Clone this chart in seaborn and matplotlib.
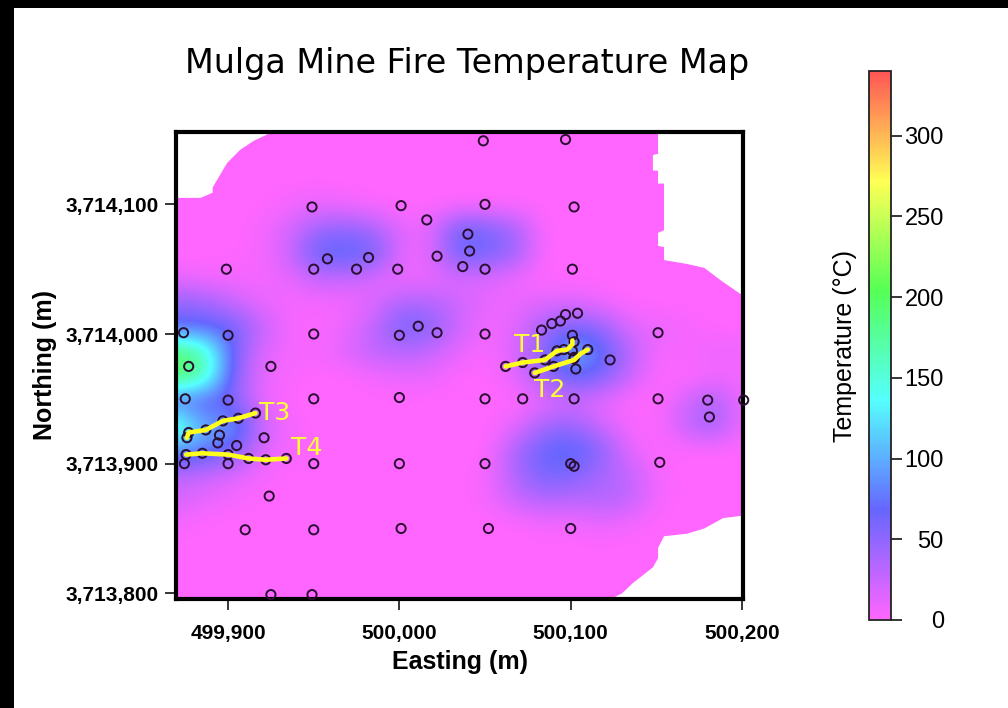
import numpy as np
import pandas as pd
import seaborn as sns
import matplotlib
matplotlib.use("Agg")
import matplotlib.pyplot as plt
from matplotlib.colors import LinearSegmentedColormap
from matplotlib.patches import Polygon, Rectangle

# survey points
point_e = [500049,500097,499949,500001,500050,500102,500016,500040,500041,499958,499982,500022,
           499899,499950,499975,499999,500037,500050,500101,499874,499900,499950,500000,500011,
           500022,500050,500151,499877,499925,499875,499900,499950,500000,500050,500072,500102,
           500151,500180,500201,500181,499916,499906,499897,499887,499877,499876,499895,499894,
           499905,499921,499875.5,499885,499900,499912,499922,499934,499874.5,499900,499950,500000,
           500050,500100,500102,500152,499924,499910,499950,500001,500052,500100,499925,499949,
           500062,500072,500085,500092,500096,500102,500101,500079,500090,500102,500110,500103,
           500123,500083,500089,500094,500097,500104,500101,500102]
point_n = [3714149,3714150,3714098,3714099,3714100,3714098,3714088,3714077,3714064,3714058,3714059,3714060,
           3714050,3714050,3714050,3714050,3714052,3714050,3714050,3714001,3713999,3714000,3713999,3714006,
           3714001,3714000,3714001,3713975,3713975,3713950,3713949,3713950,3713951,3713950,3713950,3713950,
           3713950,3713949,3713949,3713936,3713939,3713935,3713933,3713926,3713924,3713920,3713922,3713916,
           3713914,3713920,3713907,3713908,3713907,3713904,3713903,3713904,3713900,3713900,3713900,3713900,
           3713900,3713900,3713898,3713901,3713875,3713849,3713849,3713850,3713850,3713850,3713799,3713799,
           3713975,3713978,3713980,3713987,3713988,3713994,3713999,3713970,3713975,3713981,3713988,3713973,
           3713980,3714003,3714008,3714010,3714015,3714016,3713987,3713982]

# transects
t1_e = [500062,500072,500085,500092,500098,500101,500101]
t1_n = [3713975,3713978,3713980,3713987,3713988,3713992,3713995]
t2_e = [500079,500090,500102,500106,500110]
t2_n = [3713970,3713975,3713980,3713985,3713988]
t3_e = [499876,499877,499887,499897,499906,499916]
t3_n = [3713920,3713924,3713926,3713933,3713935,3713939]
t4_e = [499875.5,499885,499900,499912,499922,499934]
t4_n = [3713907,3713908,3713907,3713904,3713903,3713904]
transect_names = ["T1","T2","T3","T4"]
label_e = [500076,500088,499927,499946]
label_n = [3713991.5,3713956.5,3713939,3713912]

# temperature read on a coarse grid (rows north to south, columns west to east)
temperature = np.array([
 [0,0,0,0,0,0,0,0,0,0,0,0,0,0,0,0,0,0,0,0,0],
 [0,0,0,0,0,0,0,0,0,0,0,0,0,0,0,0,0,0,0,0,0],
 [0,0,0,0,0,0,0,0,0,0,0,0,0,0,0,0,0,0,0,0,0],
 [0,0,0,0,6,10,6,2,0,0,0,0,0,0,0,0,0,0,0,0,0],
 [0,0,0,5,18,45,50,40,10,12,70,60,40,0,0,0,0,0,0,0,0],
 [0,0,0,5,22,72,75,65,10,12,68,62,45,0,0,0,0,0,0,0,0],
 [10,5,5,5,10,25,25,15,5,10,15,15,5,0,0,0,0,0,0,0,0],
 [50,45,25,10,5,5,5,15,38,34,22,10,10,15,15,8,0,0,0,0,0],
 [70,70,65,28,5,0,10,28,65,55,22,5,12,42,60,50,15,10,5,0,0],
 [200,170,60,15,5,5,15,30,32,25,10,2,18,55,110,75,35,5,5,10,10],
 [200,170,55,10,3,0,0,5,10,10,0,0,12,45,70,60,25,0,0,5,5],
 [65,60,55,10,0,0,0,0,0,0,0,0,0,10,20,10,0,0,20,42,5],
 [175,95,100,25,5,0,0,0,0,0,0,0,12,42,48,22,5,0,28,45,5],
 [90,80,60,15,5,0,0,0,0,0,0,0,40,70,78,55,12,0,0,0,0],
 [30,25,15,5,0,0,0,0,0,0,0,5,38,62,58,38,30,5,0,0,0],
 [20,10,5,0,0,0,0,0,0,0,0,5,25,35,30,35,30,5,0,0,0],
 [5,0,0,0,0,0,0,0,0,0,0,0,0,5,5,10,5,0,0,0,0],
 [0,0,0,0,0,0,0,0,0,0,0,0,0,0,0,0,0,0,0,0,0],
 [0,0,0,0,0,0,0,0,0,0,0,0,0,0,0,0,0,0,0,0,0],
 [0,0,0,0,0,0,0,0,0,0,0,0,0,0,0,0,0,0,0,0,0],
], dtype=float)

# outline of the mapped area
area_e = [499869,499884,499891,499891,499895,499899.5,499907,499915,499923,499923,
          500151,500151,500148,500148,500151,500151,500154.5,500154.5,500151,500151,500154.5,500154.5,
          500168,500178,500188,500199,500201,500201,500189,500178,500168,500154.5,500151,500151,
          500148,500136.4,500130,500124,499869]
area_n = [3714105,3714105,3714109,3714113,3714122,3714132,3714142,3714149,3714154,3714156,
          3714156,3714139,3714138,3714126,3714126,3714116,3714116,3714080,3714078,3714068,3714067,3714057,
          3714054,3714051,3714041,3714031,3714031,3713860,3713858,3713850,3713846,3713844,3713835,3713827,
          3713820,3713808,3713800,3713796,3713796]

colorbar_ticks = [0,50,100,150,200,250,300]
x_ticks = [499900,500000,500100,500200]
y_ticks = [3713800,3713900,3714000,3714100]

sns.set_theme(style="white", rc={"text.color":"black","axes.labelcolor":"black"})
plt.rcParams['font.family'] = ['Liberation Sans','DejaVu Sans']

W,H = 1008,708
fig = plt.figure(figsize=(W/100,H/100), dpi=100, facecolor="white")
fig.patches.append(Rectangle((0,1-8/H),1,8/H,transform=fig.transFigure,fc="black",ec="none"))
fig.patches.append(Rectangle((0,0),14/W,1,transform=fig.transFigure,fc="black",ec="none"))

ax = fig.add_axes([176/W,1-598.5/H,(743-176)/W,(598.5-132)/H])
ax.set_facecolor("white")
cmap = LinearSegmentedColormap.from_list("fire",
    ["#FF66FF","#6666FF","#55FFFF","#55FF55","#FFFF55","#FF5555"], N=256)
xmin,xmax = 499869.6,500200.6
ymin,ymax = 3713796,3714155.8
im = ax.imshow(temperature,extent=[xmin-8,xmax+8,ymin-9.5,ymax+9.5],origin="upper",aspect="auto",
               cmap=cmap,vmin=0,vmax=340,interpolation="bicubic",zorder=1)
im.set_clip_path(Polygon(np.c_[area_e,area_n],closed=True,transform=ax.transData))

points = pd.DataFrame({"e":point_e,"n":point_n})
sns.scatterplot(data=points,x="e",y="n",ax=ax,s=44,facecolor="none",edgecolor="#2a0f33",linewidth=1.4,
                clip_on=False,zorder=6,legend=False)
for te,tn in [(t1_e,t1_n),(t2_e,t2_n),(t3_e,t3_n),(t4_e,t4_n)]:
    sns.lineplot(x=te,y=tn,ax=ax,sort=False,estimator=None,color="#FFFF1E",lw=3.3,zorder=7,
                 solid_capstyle="round",legend=False)
for name,e,n in zip(transect_names,label_e,label_n):
    ax.text(e,n,name,color="#FFFF33",fontsize=18,family="DejaVu Sans",ha="center",va="center",zorder=8)

ax.set_xlim(xmin,xmax); ax.set_ylim(ymin,ymax)
ax.set_xticks(x_ticks); ax.set_yticks(y_ticks)
ax.set_xticklabels([f"{v:,}" for v in x_ticks],fontweight="bold",fontsize=15)
ax.set_yticklabels([f"{v:,}" for v in y_ticks],fontweight="bold",fontsize=15)
ax.tick_params(axis="both",length=8,width=1.1,color="black",labelcolor="black",bottom=True,left=True)
ax.tick_params(axis="x",pad=10)
ax.tick_params(axis="y",pad=4.5)
for s in ax.spines.values():
    s.set_visible(True); s.set_linewidth(3); s.set_color("black"); s.set_zorder(5)
ax.set_xlabel("Easting (m)",fontweight="bold",fontsize=18,labelpad=5.5)
ax.set_ylabel("Northing (m)",fontweight="bold",fontsize=18,labelpad=6)
fig.text(467/W,1-63/H,"Mulga Mine Fire Temperature Map",family="DejaVu Sans",fontsize=24,ha="center",va="center",color="black")

cax = fig.add_axes([869/W,1-620/H,22/W,(620-71)/H])
cb = fig.colorbar(im,cax=cax)
cb.set_ticks(colorbar_ticks)
cb.ax.tick_params(length=8,width=1.1,color="black",labelsize=17,labelcolor="black",right=True,pad=30)
for lab in cb.ax.get_yticklabels():
    lab.set_ha("right")
cb.outline.set_linewidth(1.3); cb.outline.set_edgecolor("#222222")
cb.set_label("Temperature (°C)",fontsize=18,rotation=90,labelpad=8.6)
cb.ax.yaxis.set_label_position("left")

fig.savefig("out.png",dpi=100)
